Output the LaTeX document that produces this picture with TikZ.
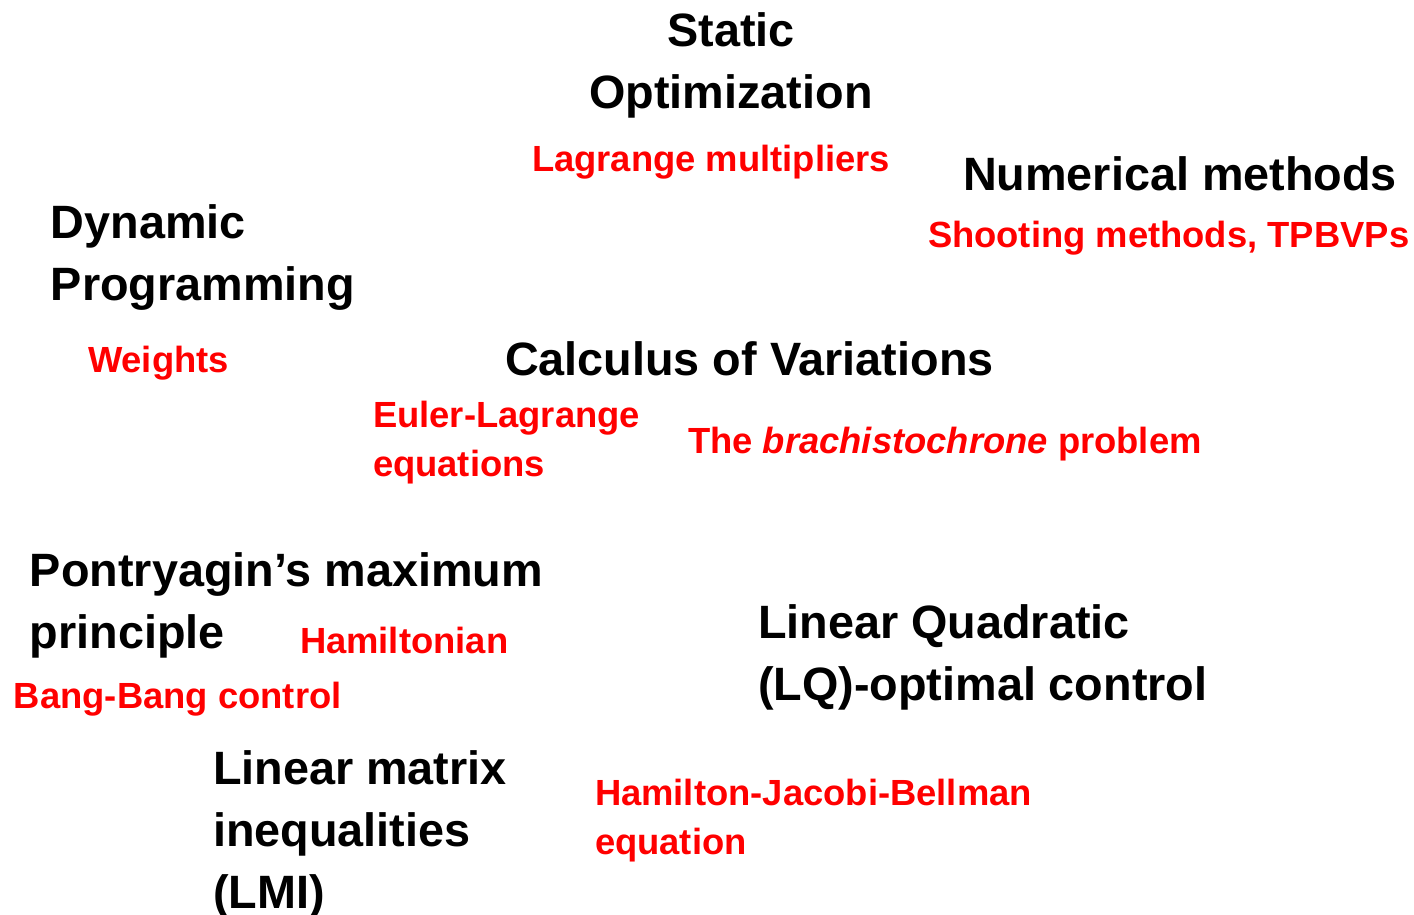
\documentclass[tikz,border=0pt]{standalone}
\usepackage{fontspec}
\setmainfont{Liberation Sans}
\usepackage{xcolor}
\definecolor{notered}{RGB}{255,0,0}

\begin{document}
\begin{tikzpicture}[x=0.01cm, y=-0.01cm,
    topic/.style={inner sep=0pt, outer sep=0pt, align=left, text=black,
        font=\bfseries\fontsize{13.3pt}{17.6pt}\selectfont},
    note/.style={inner sep=0pt, outer sep=0pt, align=left, text=notered,
        font=\bfseries\fontsize{10.35pt}{13.9pt}\selectfont}]

    % Fix the frame to the size of the reference
    \useasboundingbox (0,0) rectangle (1414,915);

    % =======================================================
    % TOPICS (black) -- base anchor sits on the last line
    % =======================================================
    \node[topic, align=center, anchor=base] (static) at (731,108) {Static\\Optimization};
    \node[topic, anchor=base west] (numerical) at (963,190) {Numerical methods};
    \node[topic, anchor=base west] (dynprog) at (51,300) {Dynamic\\Programming};
    \node[topic, anchor=base west] (calculus) at (505,375) {Calculus of Variations};
    \node[topic, anchor=base west] (pontryagin) at (30,648) {Pontryagin’s maximum\\principle};
    \node[topic, anchor=base west] (lqcontrol) at (758,700) {Linear Quadratic\\(LQ)-optimal control};
    \node[topic, anchor=base west] (lmi) at (213,908) {Linear matrix\\inequalities\\(LMI)};

    % =======================================================
    % NOTES (red)
    % =======================================================
    \node[note, anchor=base west] (lagrange) at (532,171) {Lagrange multipliers};
    \node[note, anchor=base west] (shooting) at (928,248) {Shooting methods, TPBVPs};
    \node[note, anchor=base west] (weights) at (88,372) {Weights};
    \node[note, anchor=base west] (eulerlag) at (373,476) {Euler-Lagrange\\equations};
    \node[note, anchor=base west] (brach) at (688,453) {The \textit{brachistochrone} problem};
    \node[note, anchor=base west] (hamiltonian) at (300,653) {Hamiltonian};
    \node[note, anchor=base west] (bangbang) at (14,708) {Bang-Bang control};
    \node[note, anchor=base west] (hjb) at (595,854) {Hamilton-Jacobi-Bellman\\equation};

\end{tikzpicture}
\end{document}
